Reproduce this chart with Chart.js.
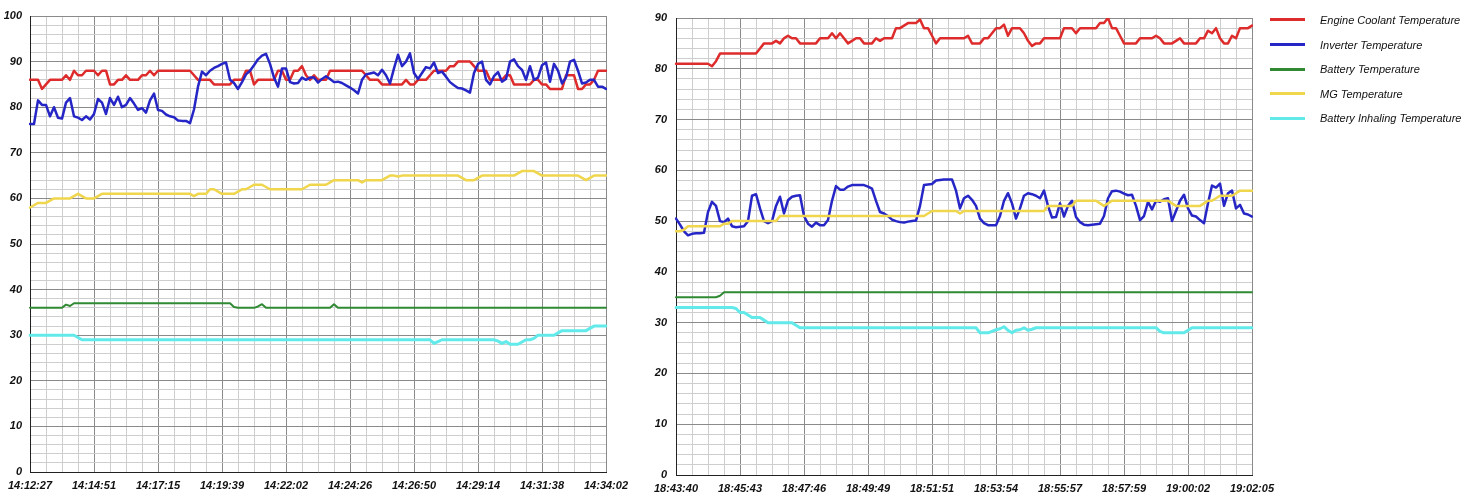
<!DOCTYPE html>
<html>
<head>
<meta charset="utf-8">
<title>Hybrid temperatures</title>
<script src="https://cdn.jsdelivr.net/npm/chart.js@4.4.1/dist/chart.umd.min.js"></script>
<style>
  html, body { margin: 0; padding: 0; background: #fff; }
  body { width: 1470px; height: 499px; position: relative; overflow: hidden; font-family: 'Liberation Sans', Arial, sans-serif; }
  .box { position: absolute; top: 0; height: 499px; width: 640px; }
  #box-left { left: 0; }
  #box-right { left: 646px; }
  #legend { position: absolute; left: 1270px; top: 7.7px; margin: 0; padding: 0; list-style: none; }
  #legend li { height: 24.6px; display: flex; align-items: center; font-style: italic; font-size: 11px; color: #111; white-space: nowrap; }
  #legend .swatch { width: 35px; height: 3px; margin-right: 15px; }
</style>
</head>
<body>
<div class="box" id="box-left"><canvas id="chart-left"></canvas></div>
<div class="box" id="box-right"><canvas id="chart-right"></canvas></div>
<ul id="legend"></ul>
<script>
// series names + colours (legend order)
const seriesNames = ['Engine Coolant Temperature', 'Inverter Temperature', 'Battery Temperature', 'MG Temperature', 'Battery Inhaling Temperature'];
const seriesColors = ['#de2c2c', '#2626c6', '#2f8a33', '#f0d64c', '#62eaea'];
const seriesWidths = [2.5, 2.5, 2, 2.5, 3];

// ---- left log: 14:12:27 - 14:34:02
const leftTicks = ['14:12:27', '14:14:51', '14:17:15', '14:19:39', '14:22:02', '14:24:26', '14:26:50', '14:29:14', '14:31:38', '14:34:02'];

const leftCoolant = [
  86,86,86,84,85,86,86,86,86,87,
  86,88,87,87,88,88,88,87,88,88,
  85,85,86,86,87,86,86,86,87,87,
  88,87,88,88,88,88,88,88,88,88,
  88,87,86,86,86,86,85,85,85,85,
  85,86,86,86,88,88,85,86,86,86,
  86,86,88,88,86,86,88,88,89,87,
  86,87,86,86,86,88,88,88,88,88,
  88,88,88,88,87,86,86,86,85,85,
  85,85,85,85,86,85,85,86,86,86,
  87,88,88,88,88,89,89,90,90,90,
  90,89,88,88,88,86,86,86,86,87,
  87,85,85,85,85,85,86,86,85,85,
  84,84,84,84,87,87,87,84,84,85,
  85,86,88,88,88
];
const leftInverter = [
  76.3,76.3,81.5,80.5,80.5,78,80,77.7,77.5,81,
  82,78,77.7,77.2,78,77.3,78.5,81.8,81,78.5,
  82,80.5,82.3,80,80.5,82,80.8,79.4,79.8,78.8,
  81.5,83,79.4,79.2,78.4,78,77.8,77.1,77,77,
  76.5,79.5,84.5,87.8,87,88,88.6,89,89.5,89.8,
  86,85.3,84,85.5,87.2,88,89.2,90.5,91.3,91.7,
  89.5,86.5,84.5,88.5,88.5,85.5,85.2,85.3,86.5,86,
  86.5,86.5,85.4,86.2,86.8,86.2,85.5,85.6,85.3,84.8,
  84.3,83.7,83,86,87.2,87.4,87.6,87,88.2,87,
  85.2,88.5,91.5,89,90,91.8,87.5,86.2,87.5,88.8,
  88.5,89.8,87.5,87.8,86.7,85.5,84.8,84.2,84.1,83.7,
  83.2,87.5,89.5,90,86,85,86.8,87.7,85.6,86.2,
  90,90.5,89,88.2,86,89,86,86.5,89.2,89.8,
  85.6,89.5,88,85.2,86.5,90,90.4,88,85.2,85.4,
  86,86,84.5,84.5,84
];
const leftBattery = [
  36,36,36,36,36,36,36,36,36,36.7,
  36.4,37,37,37,37,37,37,37,37,37,
  37,37,37,37,37,37,37,37,37,37,
  37,37,37,37,37,37,37,37,37,37,
  37,37,37,37,37,37,37,37,37,37,
  37,36.2,36,36,36,36,36,36.3,36.8,36,
  36,36,36,36,36,36,36,36,36,36,
  36,36,36,36,36,36,36.8,36,36,36,
  36,36,36,36,36,36,36,36,36,36,
  36,36,36,36,36,36,36,36,36,36,
  36,36,36,36,36,36,36,36,36,36,
  36,36,36,36,36,36,36,36,36,36,
  36,36,36,36,36,36,36,36,36,36,
  36,36,36,36,36,36,36,36,36,36,
  36,36,36,36,36
];
const leftMG = [
  58,58.5,59,59,59,59.5,60,60,60,60,
  60,60.5,61,60.5,60,60,60,60.5,61,61,
  61,61,61,61,61,61,61,61,61,61,
  61,61,61,61,61,61,61,61,61,61,
  61,60.5,61,61,61,62,62,61.5,61,61,
  61,61,61.5,62,62,62.5,63,63,63,62.5,
  62,62,62,62,62,62,62,62,62,62.5,
  63,63,63,63,63,63.5,64,64,64,64,
  64,64,64,63.5,64,64,64,64,64,64.5,
  65,65,64.8,65,65,65,65,65,65,65,
  65,65,65,65,65,65,65,65,64.5,64,
  64,64,64.5,65,65,65,65,65,65,65,
  65,65,65.5,66,66,66,66,65.5,65,65,
  65,65,65,65,65,65,65,65,64.5,64,
  64.5,65,65,65,65
];
const leftInhaling = [
  30,30,30,30,30,30,30,30,30,30,
  30,30,29.5,29,29,29,29,29,29,29,
  29,29,29,29,29,29,29,29,29,29,
  29,29,29,29,29,29,29,29,29,29,
  29,29,29,29,29,29,29,29,29,29,
  29,29,29,29,29,29,29,29,29,29,
  29,29,29,29,29,29,29,29,29,29,
  29,29,29,29,29,29,29,29,29,29,
  29,29,29,29,29,29,29,29,29,29,
  29,29,29,29,29,29,29,29,29,29,
  29,28.2,28.6,29,29,29,29,29,29,29,
  29,29,29,29,29,29,29,28.7,28.2,28.6,
  28,28,28,28.5,29,29,29.3,30,30,30,
  30,30,30.5,31,31,31,31,31,31,31,
  31.5,32,32,32,32
];

// ---- right log: 18:43:40 - 19:02:05
const rightTicks = ['18:43:40', '18:45:43', '18:47:46', '18:49:49', '18:51:51', '18:53:54', '18:55:57', '18:57:59', '19:00:02', '19:02:05'];

const rightCoolant = [
  81,81,81,81,81,81,81,81,81,80.5,
  81.5,83,83,83,83,83,83,83,83,83,
  83,84,85,85,85,85.5,85,86,86.5,86,
  86,85,85,85,85,85,86,86,86,87,
  86,87,86,85,85.5,86,86,85,85,85,
  86,85.5,86,86,86,88,88,88.5,89,89,
  89,89.7,88,88,86.5,85,86,86,86,86,
  86,86,86,86.5,85,85,85,86,86,87,
  88,88,88.7,86.5,88,88,88,87,85.5,84.5,
  85,85,86,86,86,86,86,88,88,88,
  87,88,88,88,88,88,89,89,90,88,
  88,86.5,85,85,85,85,86,86,86,86,
  86.5,86,85,85,85,85.5,86,85,85,85,
  85,86,86,87.5,87,88,86,85,85,86.5,
  86,88,88,88,88.5
];
const rightInverter = [
  50.5,49.3,48,47.2,47.5,47.6,47.6,47.7,51.8,53.8,
  53,50,49.8,50.5,49,48.8,48.9,49,50,55,
  55.3,52.5,50,49.6,50,53,54.8,51.5,54.1,54.8,
  55,55.1,51,49.5,48.9,49.7,49.2,49.2,50.2,54,
  56.9,56.2,56.2,56.8,57.1,57.1,57.1,57.1,56.8,56.4,
  54,51.8,51.5,51,50.3,50,49.8,49.7,49.9,50,
  50.1,53,57.1,57.2,57.3,58,58.1,58.2,58.2,58.2,
  56,52.5,54.5,55,54.2,53,50.5,49.6,49.2,49.2,
  49.2,51,54,55.5,53.5,50.5,52.5,55,55.5,55.3,
  55,54.5,56,53,50.7,50.8,53.5,50.9,53,54,
  50.8,49.8,49.3,49.2,49.3,49.4,49.5,51,54.5,55.9,
  56,55.8,55.4,55.1,55.2,53,50.2,51,53.8,52.3,
  54,53.8,54.3,54.5,50,52,54,55.2,52.5,51.1,
  50.9,50.2,49.6,53.5,57,56.6,57.4,53,55.5,56,
  52.5,53.2,51.5,51.3,50.9
];
const rightBattery = [
  35,35,35,35,35,35,35,35,35,35,
  35,35.3,36,36,36,36,36,36,36,36,
  36,36,36,36,36,36,36,36,36,36,
  36,36,36,36,36,36,36,36,36,36,
  36,36,36,36,36,36,36,36,36,36,
  36,36,36,36,36,36,36,36,36,36,
  36,36,36,36,36,36,36,36,36,36,
  36,36,36,36,36,36,36,36,36,36,
  36,36,36,36,36,36,36,36,36,36,
  36,36,36,36,36,36,36,36,36,36,
  36,36,36,36,36,36,36,36,36,36,
  36,36,36,36,36,36,36,36,36,36,
  36,36,36,36,36,36,36,36,36,36,
  36,36,36,36,36,36,36,36,36,36,
  36,36,36,36,36
];
const rightMG = [
  48,48,48.3,49,49,49,49,49,49,49,
  49,49,49.5,49.5,50,50,50,50,50,50,
  50,50,50,50,50,50,51,51,51,51,
  51,51,51,51,51,51,51,51,51,51,
  51,51,51,51,51,51,51,51,51,51,
  51,51,51,51,51,51,51,51,51,51,
  51,51,51,51.5,52,52,52,52,52,52,
  52,51.5,52,52,52,52,52,52,52,52,
  52,52,52,52,52,52,52,52,52,52,
  52,52,52,53,53,53,53,53,53,53,
  54,54,54,54,54,54,53.5,53,53.5,54,
  54,54,54,54,54,54,54,54,54,54,
  54,54,54,54,53.5,53,53,53,53,53,
  53,53,53.5,54,54,54.5,55,55,55,55,
  55.5,56,56,56,56
];
const rightInhaling = [
  33,33,33,33,33,33,33,33,33,33,
  33,33,33,33,33,32.8,32,32,31.5,31,
  31,31,30.5,30,30,30,30,30,30,30,
  29.5,29,29,29,29,29,29,29,29,29,
  29,29,29,29,29,29,29,29,29,29,
  29,29,29,29,29,29,29,29,29,29,
  29,29,29,29,29,29,29,29,29,29,
  29,29,29,29,29,29,28,28,28,28.3,
  28.6,28.8,29.2,28.5,28,28.5,28.6,29,28.5,28.7,
  29,29,29,29,29,29,29,29,29,29,
  29,29,29,29,29,29,29,29,29,29,
  29,29,29,29,29,29,29,29,29,29,
  29,28.3,28,28,28,28,28,28,28.5,29,
  29,29,29,29,29,29,29,29,29,29,
  29,29,29,29,29
];

const MAJOR = '#8a8a8a';
const MINOR = '#cecece';
const tickFont = { family: "'Liberation Sans', Arial, sans-serif", size: 11, style: 'italic', weight: 'bold' };

function makeChart(canvasId, tickLabels, values, yMax, padTop, xHeight, yPad) {
  const n = values[0].length;
  const major = (n - 1) / (tickLabels.length - 1);   // samples between labelled ticks
  const minor = major / 4;
  const yValues = [];
  for (let v = 0; v <= yMax; v += 2) yValues.push(v);

  return new Chart(document.getElementById(canvasId), {
    type: 'line',
    data: {
      labels: values[0].map((_, i) => i),
      datasets: values.map((v, k) => ({
        label: seriesNames[k],
        data: v,
        borderColor: seriesColors[k],
        backgroundColor: seriesColors[k],
        borderWidth: seriesWidths[k],
        borderJoinStyle: 'round',
        borderCapStyle: 'round',
        pointRadius: 0,
        tension: 0,
        order: values.length - k
      }))
    },
    options: {
      animation: false,
      responsive: true,
      maintainAspectRatio: false,
      layout: { padding: { top: padTop, right: 34, left: 0, bottom: 0 } },
      plugins: { legend: { display: false }, tooltip: { enabled: false } },
      scales: {
        x: {
          grid: {
            drawTicks: false,
            color: c => c.index % major === 0 ? MAJOR : (c.index % minor === 0 ? MINOR : 'rgba(0,0,0,0)')
          },
          border: { color: '#222' },
          ticks: {
            autoSkip: false, minRotation: 0, maxRotation: 0, padding: 7,
            font: tickFont, color: '#111',
            callback: (val, i) => i % major === 0 ? tickLabels[i / major] : ''
          },
          afterFit: s => { s.height = xHeight; }
        },
        y: {
          min: 0, max: yMax,
          afterBuildTicks: s => { s.ticks = yValues.map(v => ({ value: v })); },
          grid: { drawTicks: false, color: c => c.tick.value % 10 === 0 ? MAJOR : MINOR },
          border: { color: '#222' },
          ticks: {
            autoSkip: false, padding: yPad, font: tickFont, color: '#111',
            callback: v => v % 10 === 0 ? v : ''
          },
          afterFit: s => { s.width = 30; }
        }
      }
    }
  });
}

const leftChart = makeChart('chart-left', leftTicks,
  [leftCoolant, leftInverter, leftBattery, leftMG, leftInhaling], 100, 16, 27, 8);
const rightChart = makeChart('chart-right', rightTicks,
  [rightCoolant, rightInverter, rightBattery, rightMG, rightInhaling], 90, 18, 24, 9);

// legend from the right chart's datasets
const legend = document.getElementById('legend');
rightChart.data.datasets.forEach(ds => {
  const li = document.createElement('li');
  const sw = document.createElement('span');
  sw.className = 'swatch';
  sw.style.background = ds.borderColor;
  li.appendChild(sw);
  li.appendChild(document.createTextNode(ds.label));
  legend.appendChild(li);
});
</script>
</body>
</html>
